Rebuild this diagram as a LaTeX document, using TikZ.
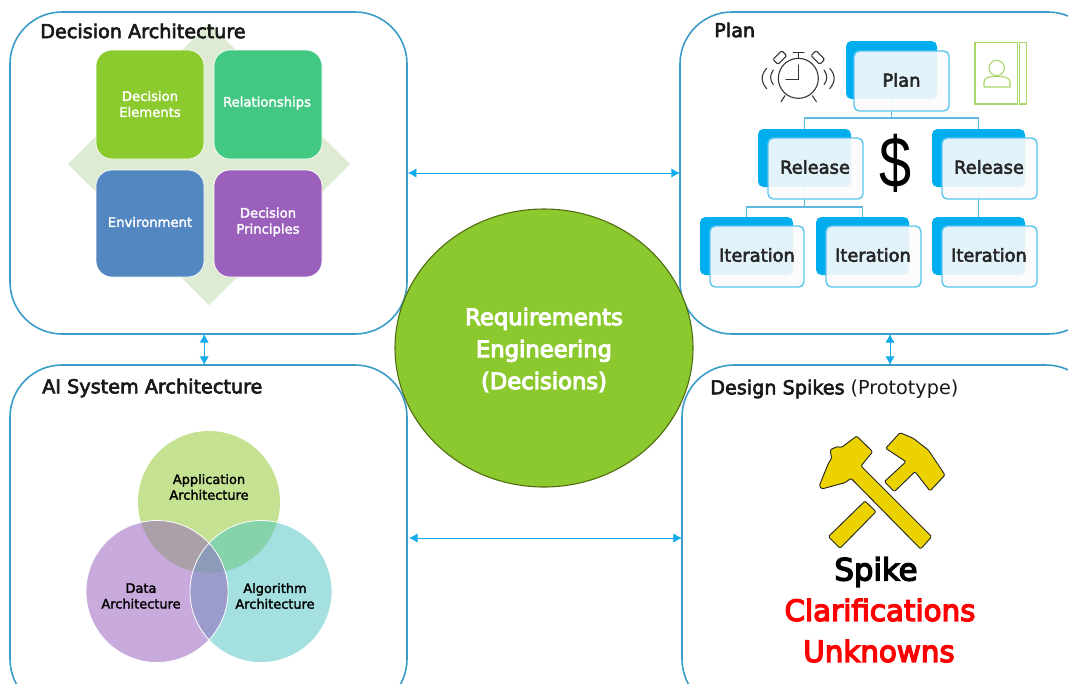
\documentclass[tikz,border=0pt]{standalone}
\usepackage{fontspec}
\setmainfont{DejaVu Sans}
\newfontfamily\medfont[FakeBold=3.2]{DejaVu Sans}
\newfontfamily\heavyfont[FakeBold=4.5]{DejaVu Sans}
\newfontfamily\lightbold[FakeBold=2]{DejaVu Sans}
\newfontfamily\dollarfont{Liberation Sans}
\usetikzlibrary{arrows.meta,calc,shapes.geometric}
\definecolor{panelc}{HTML}{3C9CC8}
\definecolor{arrowc}{HTML}{12ABEB}
\definecolor{backc}{HTML}{00ADEF}
\definecolor{frontc}{HTML}{5CC6EF}
\definecolor{linkc}{HTML}{5FB8DF}
\definecolor{ballc}{HTML}{8CC92E}
\definecolor{ballb}{HTML}{4F6B12}
\definecolor{diac}{HTML}{DDEBD2}
\definecolor{sqa}{HTML}{8CCB2E}
\definecolor{sqb}{HTML}{42C882}
\definecolor{sqc}{HTML}{5287C2}
\definecolor{sqd}{HTML}{9A60BC}
\definecolor{ven}{HTML}{C5E293}
\definecolor{vel}{HTML}{C8ABDC}
\definecolor{ver}{HTML}{A3E0DF}
\definecolor{vetl}{HTML}{ABA0A8}
\definecolor{vetr}{HTML}{85D2AB}
\definecolor{velr}{HTML}{9C9CCC}
\definecolor{vemid}{HTML}{8C9CB8}
\definecolor{hamc}{HTML}{ECD300}
\definecolor{bookc}{HTML}{A6D768}
\definecolor{clockc}{HTML}{333333}
% name, x1, y1, x2, y2, style
\newcommand\pxbox[6]{\node[#6,minimum width={(#4-#2)*0.75pt},minimum height={(#5-#3)*0.75pt}] (#1) at ({(#2+#4)/2},{(#3+#5)/2}) {};}
\tikzset{
  panel/.style={draw=panelc,line width=1.2pt,rounded corners=39pt,inner sep=0pt,outer sep=0pt},
  square/.style={fill=#1,draw=white,line width=.5pt,rounded corners=12pt,inner sep=0pt,outer sep=0pt},
  backbox/.style={fill=backc,rounded corners=4pt,inner sep=0pt,outer sep=0pt},
  frontbox/.style={draw=frontc,line width=1.1pt,fill=none,rounded corners=4pt,inner sep=0pt,outer sep=0pt},
  link/.style={draw=linkc,line width=1.2pt},
  bothway/.style={draw=arrowc,line width=.7pt,{Latex[length=6.5pt,width=7pt]}-{Latex[length=6.5pt,width=7pt]}},
  title/.style={font=\medfont\fontsize{14.4}{15}\selectfont,text=black!90,inner sep=0pt},
  sqlabel/.style={font=\lightbold\fontsize{9.9}{12}\selectfont,text=white,align=center,inner sep=0pt},
  vlabel/.style={font=\lightbold\fontsize{9.7}{11.8}\selectfont,text=black,align=center,inner sep=0pt},
  treelabel/.style={font=\medfont\fontsize{13.4}{14}\selectfont,text=black!85,inner sep=0pt},
  hammer/.style={fill=hamc,draw=black!85,line width=.7pt,line join=round,rounded corners=1pt},
  clockline/.style={draw=clockc,line width=.8pt,line cap=round},
  bookline/.style={draw=bookc,line width=.8pt},
}
\begin{document}
\begin{tikzpicture}[x=0.75pt,y=-0.75pt]
\clip (0,0) rectangle (1068,683);
\fill[white] (0,0) rectangle (1068,683);
% panels
\pxbox{tl}{10}{12}{407}{334}{panel}
\pxbox{tr}{680}{12}{1100}{334}{panel}
\pxbox{bl}{10}{365}{407}{711}{panel}
\pxbox{br}{682}{365}{1098}{711}{panel}
% arrows
\draw[bothway] ([xshift=.6pt]tl.east) -- (tr.west);
\draw[bothway] ([xshift=1.5pt]bl.east) -- (br.west);
\draw[bothway] ([xshift=-3.2pt]tl.south) -- ([xshift=-3.2pt]tl.south |- bl.north);
\draw[bothway] (tr.south) -- (tr.south |- br.north);
% centre ball
\node[ellipse,draw=ballb,line width=.8pt,fill=ballc,inner sep=0pt,outer sep=0pt,minimum width=223.5pt,minimum height=208.5pt] (ball) at (544,348) {};
\node[font=\heavyfont\fontsize{17}{24}\selectfont,text=white,align=center,inner sep=0pt] (balltext) at (544,350) {Requirements\\Engineering\\(Decisions)};
% decision architecture
\fill[diac] (68,164) -- (209,23) -- (350,164) -- (209,305) -- cycle;
\pxbox{de}{96}{50}{204}{159}{square=sqa}
\pxbox{re}{214}{50}{322}{159}{square=sqb}
\pxbox{en}{96}{170}{204}{277}{square=sqc}
\pxbox{pr}{214}{170}{322}{277}{square=sqd}
\node[sqlabel] (detext) at (150,104) {Decision\\Elements};
\node[sqlabel] (retext) at (267,103) {Relationships};
\node[sqlabel] (entext) at (150,222) {Environment};
\node[sqlabel] (prtext) at (268,222) {Decision\\Principles};
\node[title,anchor=west] (t1) at (40,31) {Decision Architecture};
\node[title,anchor=west] (t2) at (714,30) {Plan};
\node[title,anchor=west] (t3) at (42,388) {AI System Architecture};
\node[title,anchor=west] (t4) at (710,389) {Design Spikes \normalfont\fontsize{14.4}{15}\selectfont(Prototype)};
% plan tree
\pxbox{pb}{846}{41}{937}{99}{backbox}
\pxbox{r1b}{758}{129}{851}{187}{backbox}
\pxbox{r2b}{932}{129}{1025}{187}{backbox}
\pxbox{i1b}{700}{217}{793}{275}{backbox}
\pxbox{i2b}{816}{217}{909}{275}{backbox}
\pxbox{i3b}{932}{217}{1025}{275}{backbox}
\path[link] (pb.south) -- ++(0,19) -| (r1b.north);
\path[link] (pb.south) -- ++(0,19) -| (r2b.north);
\path[link] (r1b.south) -- ++(0,20) -| (i1b.north);
\path[link] (r1b.south) -- ++(0,20) -| (i2b.north);
\path[link] (r2b.south) -- (r2b.south |- i3b.north);
\foreach \a/\b/\c/\d in {854/51/949/111,768/138/863/199,942/138/1037/199,710/226/804/287,826/226/921/287,942/226/1037/287}{
  \fill[white,opacity=.9,rounded corners=4pt] (\a,\b) rectangle (\c,\d);
  \fill[black,opacity=.012,rounded corners=4pt] (\a,\b) rectangle (\c,\d);
}
\pxbox{pf}{854}{51}{949}{111}{frontbox}
\pxbox{r1f}{768}{138}{863}{199}{frontbox}
\pxbox{r2f}{942}{138}{1037}{199}{frontbox}
\pxbox{i1f}{710}{226}{804}{287}{frontbox}
\pxbox{i2f}{826}{226}{921}{287}{frontbox}
\pxbox{i3f}{942}{226}{1037}{287}{frontbox}
\node[treelabel] (pt) at (901.5,80) {Plan};
\node[treelabel] (r1t) at (815,167) {Release};
\node[treelabel] (r2t) at (989,167) {Release};
\node[treelabel] (i1t) at (757,255) {Iteration};
\node[treelabel] (i2t) at (873,255) {Iteration};
\node[treelabel] (i3t) at (989,255) {Iteration};
\node[font=\dollarfont\fontsize{54}{54}\selectfont,text=black,inner sep=0pt,xscale=.8,transform shape] (dollar) at (896,163) {\$};
% clock and contact book, in the 3x crop's coordinates
\begin{scope}[shift={(680,0)},x=0.25pt,y=-0.25pt]
  \draw[clockline] (355,235) circle (60);
  \draw[clockline] (355,195) -- (355,238) -- (318,238);
  \draw[clockline] (340,158) -- (372,158) (356,158) -- (356,175);
  \draw[clockline,rounded corners=1pt] (279,178) -- (305,152) -- (320,167) -- (294,193) -- cycle;
  \draw[clockline,rounded corners=1pt] (393,167) -- (408,152) -- (434,178) -- (419,193) -- cycle;
  \draw[clockline] (315,287) -- (303,305) (397,287) -- (409,305);
  \draw[clockline] (280,210) .. controls (269,225) and (269,240) .. (280,254);
  \draw[clockline] (260,205) .. controls (242,225) and (242,245) .. (260,266);
  \draw[clockline] (432,210) .. controls (443,225) and (443,240) .. (432,254);
  \draw[clockline] (449,205) .. controls (467,225) and (467,245) .. (449,266);
  \draw[bookline] (885,128) rectangle (1012,312);
  \draw[bookline] (1019,128) rectangle (1040,312);
  \draw[bookline] (950,204) circle (23);
  \draw[bookline,line join=round] (912,261) -- (912,246) .. controls (912,232) and (930,229) .. (950,229) .. controls (970,229) and (990,232) .. (990,246) -- (990,261) -- cycle;
\end{scope}
% venn
\begin{scope}
  \fill[ven] (209,502) circle (71);
  \fill[vel] (157,591.5) circle (71);
  \fill[ver] (261,591.5) circle (71);
  \begin{scope}\clip (209,502) circle (71); \fill[vetl] (157,591.5) circle (71); \fill[vetr] (261,591.5) circle (71); \end{scope}
  \begin{scope}\clip (157,591.5) circle (71); \fill[velr] (261,591.5) circle (71); \end{scope}
  \begin{scope}\clip (209,502) circle (71); \clip (157,591.5) circle (71); \fill[vemid] (261,591.5) circle (71); \end{scope}
  \draw[white,line width=.6pt] (157,591.5) circle (71) (261,591.5) circle (71);
\end{scope}
\node[vlabel] (v1) at (209,487) {Application\\Architecture};
\node[vlabel] (v2) at (141,596) {Data\\Architecture};
\node[vlabel] (v3) at (275,596) {Algorithm\\Architecture};
% hammers, in the 3x crop's coordinates
\begin{scope}[shift={(680,340)},x=0.25pt,y=-0.25pt]
  \draw[hammer] (555,483) -- (588,515) -- (480,625) -- (445,590) -- cycle;
  \draw[hammer] (660,278) -- (700,295) -- (745,330) -- (795,405) -- (750,453) -- (705,395) -- (643,455) -- (613,425) -- (678,365) -- (617,325) -- cycle;
  \draw[hammer] (530,288) -- (578,335) -- (543,378) -- (755,590) -- (722,627) -- (513,415) -- (495,428) -- (425,447) -- (418,437) -- (445,370) -- (455,355) -- (450,330) -- (470,320) -- (485,322) -- cycle;
\end{scope}
\node[font=\heavyfont\fontsize{23}{24}\selectfont,text=black,inner sep=0pt] (spike) at (876,572) {Spike};
\node[font=\heavyfont\fontsize{22}{24}\selectfont,text=red,inner sep=0pt] (clar) at (880,610) {Clarifications};
\node[font=\heavyfont\fontsize{22}{24}\selectfont,text=red,inner sep=0pt] (unk) at (879,651) {Unknowns};
\end{tikzpicture}
\end{document}
